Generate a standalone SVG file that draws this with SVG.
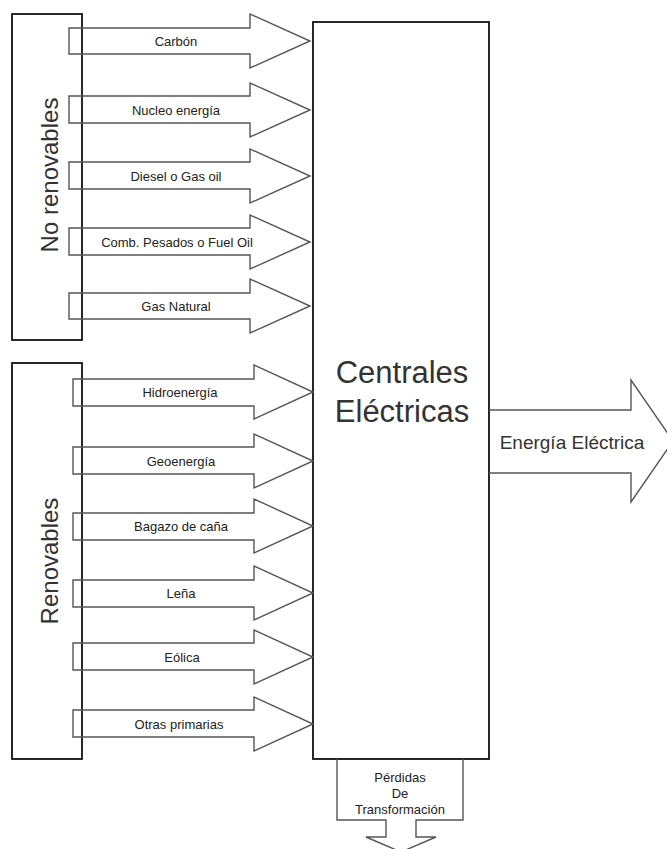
<svg xmlns="http://www.w3.org/2000/svg" width="667" height="849" viewBox="0 0 667 849">
<style>
.box{fill:none;stroke:#111;stroke-width:1.8}
.arr{fill:none;stroke:#555;stroke-width:1.4;stroke-linejoin:miter}
.lbl{font-family:"Liberation Sans",Arial,sans-serif;font-size:13px;fill:#222;text-anchor:middle}
.big{font-family:"Liberation Sans",Arial,sans-serif;fill:#333;text-anchor:middle}
</style>
<rect width="667" height="849" fill="#fff"/>
<g id="no-renovables">
<rect class="box" x="12" y="14" width="70" height="326"/>
<text class="big" font-size="24" transform="translate(58,175) rotate(-90)">No renovables</text>
</g>
<g id="renovables">
<rect class="box" x="12" y="363" width="70" height="396"/>
<text class="big" font-size="24" transform="translate(58,561) rotate(-90)">Renovables</text>
</g>
<g id="centrales">
<rect class="box" x="313" y="22" width="176" height="737"/>
<text class="big" font-size="31" x="402" y="383">Centrales</text>
<text class="big" font-size="31" x="402" y="422">Eléctricas</text>
</g>
<g id="connectors">
<g id="carbon"><path class="arr" d="M69,28 H250 V14 L310,41 L250,68 V54 H69 Z"/><text class="lbl" x="176" y="46">Carbón</text></g>
<g id="nucleo"><path class="arr" d="M69,96 H250 V83 L310,110 L250,137 V123 H69 Z"/><text class="lbl" x="176" y="114.5">Nucleo energía</text></g>
<g id="diesel"><path class="arr" d="M69,162 H250 V149 L310,176 L250,203 V189 H69 Z"/><text class="lbl" x="176" y="180.5">Diesel o Gas oil</text></g>
<g id="comb"><path class="arr" d="M69,228 H250 V215 L310,242 L250,269 V255 H69 Z"/><text class="lbl" x="177" y="246.5">Comb. Pesados o Fuel Oil</text></g>
<g id="gasnatural"><path class="arr" d="M69,293 H250 V279 L310,306 L250,333 V319 H69 Z"/><text class="lbl" x="176" y="310.5">Gas Natural</text></g>
<g id="hidro"><path class="arr" d="M73,379 H254 V365 L313,392 L254,419 V406 H73 Z"/><text class="lbl" x="180" y="396.5">Hidroenergía</text></g>
<g id="geo"><path class="arr" d="M73,447 H254 V434 L313,461 L254,488 V474 H73 Z"/><text class="lbl" x="181" y="465.5">Geoenergía</text></g>
<g id="bagazo"><path class="arr" d="M73,513 H254 V499 L313,526 L254,553 V540 H73 Z"/><text class="lbl" x="181" y="530.5">Bagazo de caña</text></g>
<g id="lena"><path class="arr" d="M73,580 H254 V566 L313,593 L254,620 V607 H73 Z"/><text class="lbl" x="181" y="597.5">Leña</text></g>
<g id="eolica"><path class="arr" d="M73,643 H254 V630 L313,657 L254,684 V670 H73 Z"/><text class="lbl" x="182" y="661.5">Eólica</text></g>
<g id="otras"><path class="arr" d="M73,710 H254 V697 L313,724 L254,751 V737 H73 Z"/><text class="lbl" x="179" y="728.5">Otras primarias</text></g>
<g id="energia"><path class="arr" d="M489,410 H631 V380 L673,441 L631,502 V473 H489"/><text class="big" font-size="19" fill="#222" x="572" y="449">Energía Eléctrica</text></g>
<g id="perdidas"><path class="arr" d="M337,759 V820 H386 V837 H366 L401,852 L436,837 H416 V820 H463 V759"/>
<text class="lbl" x="400" y="782">Pérdidas</text><text class="lbl" x="400" y="798">De</text><text class="lbl" x="400" y="814">Transformación</text></g>
</g>
</svg>
